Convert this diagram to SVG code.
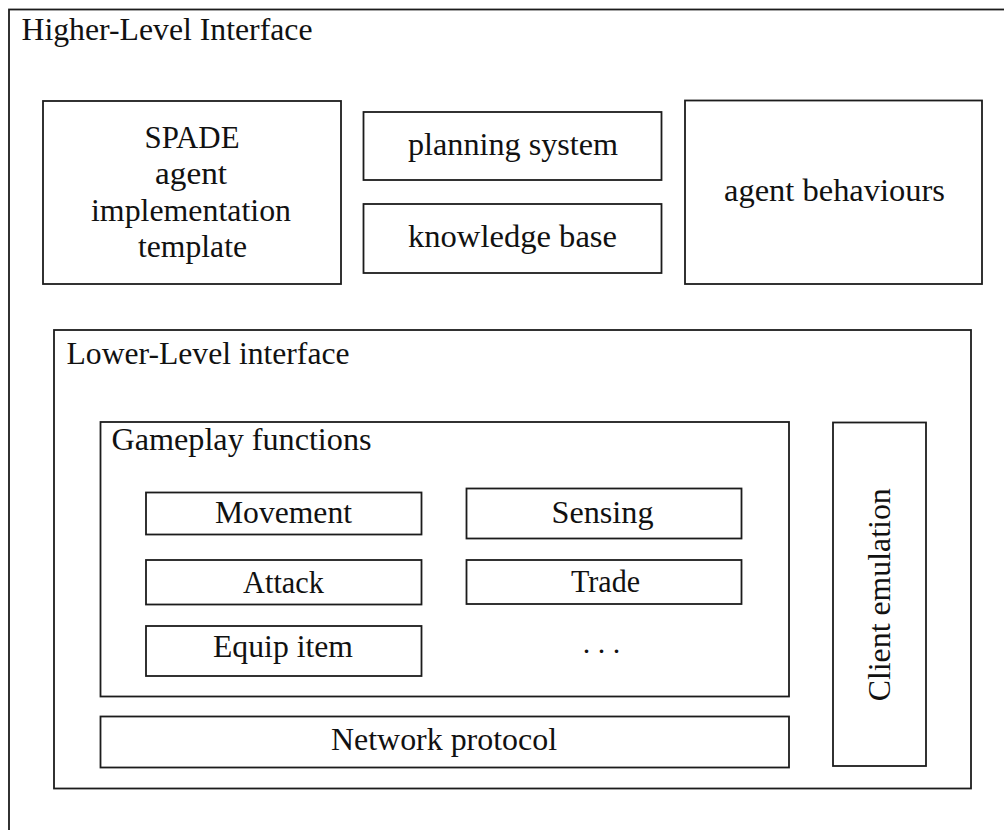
<svg xmlns="http://www.w3.org/2000/svg" width="1004" height="830" viewBox="0 0 1004 830">
<style>
rect{fill:none;stroke:#1c1c1c;stroke-width:1.8}
text{font-family:"Liberation Serif","Times New Roman",Times,serif;font-size:32px;fill:#111}
.c{text-anchor:middle}
</style>
<rect x="0" y="0" width="1004" height="830" style="fill:#fff;stroke:none"/>
<g id="higher-level">
<rect x="9" y="9.5" width="1100" height="900"/>
<text x="21.5" y="39.5" textLength="291" lengthAdjust="spacingAndGlyphs">Higher-Level Interface</text>
</g>
<g id="spade">
<rect x="43" y="101" width="298" height="183"/>
<text class="c" x="192" y="147.5" textLength="95" lengthAdjust="spacingAndGlyphs">SPADE</text>
<text class="c" x="191" y="184" textLength="72" lengthAdjust="spacingAndGlyphs">agent</text>
<text class="c" x="191" y="220.5" textLength="200" lengthAdjust="spacingAndGlyphs">implementation</text>
<text class="c" x="192.5" y="257" textLength="109" lengthAdjust="spacingAndGlyphs">template</text>
</g>
<g id="planning">
<rect x="363.5" y="112" width="298" height="68"/>
<text class="c" x="513" y="155" textLength="210" lengthAdjust="spacingAndGlyphs">planning system</text>
</g>
<g id="knowledge">
<rect x="363.5" y="204" width="298" height="69"/>
<text class="c" x="512.5" y="247" textLength="209" lengthAdjust="spacingAndGlyphs">knowledge base</text>
</g>
<g id="behaviours">
<rect x="685" y="100.5" width="297" height="183.5"/>
<text class="c" x="834.5" y="201" textLength="221" lengthAdjust="spacingAndGlyphs">agent behaviours</text>
</g>
<g id="lower-level">
<rect x="54" y="330" width="917" height="458.5"/>
<text x="66.5" y="363.5" textLength="283" lengthAdjust="spacingAndGlyphs">Lower-Level interface</text>
</g>
<g id="gameplay">
<rect x="100.5" y="422" width="688.5" height="274.5"/>
<text x="111.5" y="450" textLength="260" lengthAdjust="spacingAndGlyphs">Gameplay functions</text>
</g>
<g id="movement">
<rect x="146" y="492.5" width="275.5" height="42"/>
<text class="c" x="283.5" y="523.3" textLength="137" lengthAdjust="spacingAndGlyphs">Movement</text>
</g>
<g id="sensing">
<rect x="466.5" y="488.5" width="275" height="50"/>
<text class="c" x="602.5" y="523.3" textLength="102" lengthAdjust="spacingAndGlyphs">Sensing</text>
</g>
<g id="attack">
<rect x="146" y="560" width="275.5" height="44.5"/>
<text class="c" x="283.5" y="592.7" textLength="81" lengthAdjust="spacingAndGlyphs">Attack</text>
</g>
<g id="trade">
<rect x="466.5" y="560" width="275" height="44"/>
<text class="c" x="605.5" y="591.7" textLength="69" lengthAdjust="spacingAndGlyphs">Trade</text>
</g>
<g id="equip">
<rect x="146" y="626" width="275.5" height="50"/>
<text class="c" x="283" y="657.3" textLength="140" lengthAdjust="spacingAndGlyphs">Equip item</text>
</g>
<g id="more">
<text class="c" x="601.5" y="652.7" style="font-size:30px">. . .</text>
</g>
<g id="network">
<rect x="100.5" y="716.5" width="688.5" height="51"/>
<text class="c" x="444" y="750" textLength="226" lengthAdjust="spacingAndGlyphs">Network protocol</text>
</g>
<g id="client">
<rect x="833" y="422.5" width="93" height="343.5"/>
<text class="c" transform="translate(890,594.8) rotate(-90)" x="0" y="0" textLength="213" lengthAdjust="spacingAndGlyphs">Client emulation</text>
</g>
<g id="connectors"></g>
</svg>
